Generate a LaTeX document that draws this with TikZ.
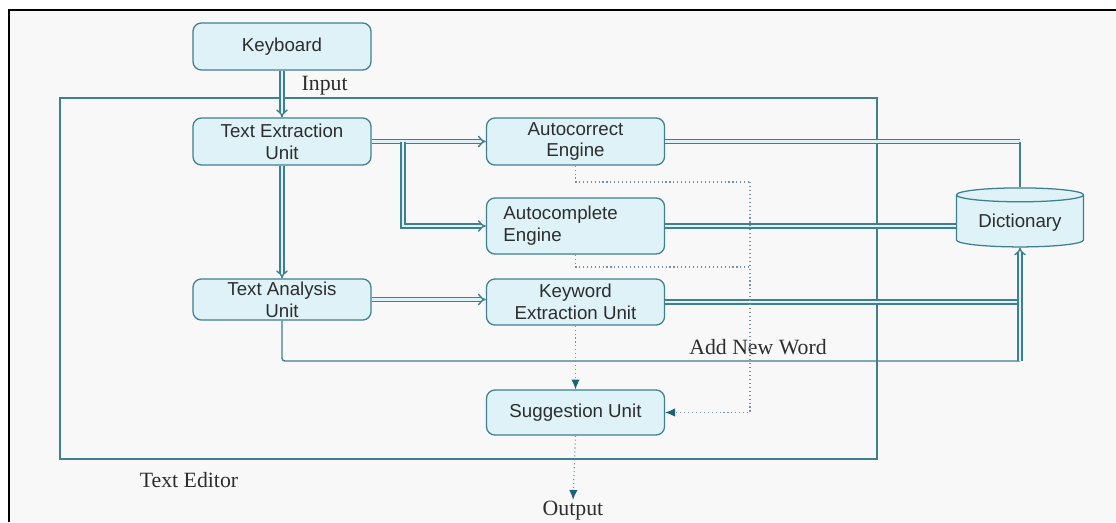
\documentclass[tikz,border=0pt]{standalone}
\usepackage{fontspec}
\setmainfont{Liberation Serif}
\setsansfont{Liberation Sans}
\usepackage{tikz}
\usetikzlibrary{arrows.meta,positioning,shapes.geometric}
\usepackage{xcolor}
\definecolor{cLine}{RGB}{62,128,144}
\definecolor{cFill}{RGB}{222,242,248}
\definecolor{cDot}{RGB}{120,145,160}
\definecolor{cHead}{RGB}{28,98,122}
\definecolor{cText}{RGB}{45,45,45}
\definecolor{cBg}{RGB}{248,248,248}

\begin{document}
\begin{tikzpicture}[
    x=0.025cm, y=-0.025cm,
    unit/.style={rectangle,rounded corners=6pt,draw=cLine,line width=0.9pt,fill=cFill,text=cText,
      font=\sffamily\fontsize{13.3}{15.5}\selectfont,align=center,minimum width=4.45cm,minimum height=1.175cm,inner sep=2pt},
    store/.style={cylinder,shape border rotate=90,aspect=0.15,draw=cLine,line width=0.9pt,fill=cFill,text=cText,
      font=\sffamily\fontsize{13.3}{15.5}\selectfont,minimum width=3.175cm,minimum height=1.475cm},
    tag/.style={font=\fontsize{15.5}{18}\selectfont,text=cText,inner sep=1pt},
    dbl/.style={draw=cLine,line width=1pt,double=cFill,double distance=1.7pt},
    link/.style={draw=cLine,line width=1pt},
    dots/.style={draw=cDot,line width=0.8pt,dotted},
    dothead/.style={-{Latex[length=7pt,width=6pt,color=cHead]}},
    >={Implies}
  ]
  \useasboundingbox (0,0) rectangle (1116,522);
  % Page
  \fill[white] (0,0) rectangle (1116,522);
  \fill[cBg] (9,10) rectangle (1116,522);
  \draw[line width=2pt] (9,522) -- (9,10) -- (1116,10);
  % Text editor frame
  \draw[cLine,line width=1pt] (60,98) rectangle (877,459);
  % Units
  \node[unit] (kbd) at (282,46.5) {Keyboard};
  \node[unit] (tex) at (282,141.5) {Text Extraction\\Unit};
  \node[unit] (acr) at (575.5,141.5) {Autocorrect\\Engine};
  \node[unit,minimum height=1.4cm,align=left,text width=3.6cm,inner xsep=0.425cm] (acp) at (575.5,226) {Autocomplete\\Engine};
  \node[unit,minimum height=1.025cm] (tan) at (282,299.5) {Text Analysis\\Unit};
  \node[unit,minimum height=1.15cm] (kwe) at (575.5,302) {Keyword\\Extraction Unit};
  \node[unit,minimum height=1.125cm] (sug) at (575.5,412.5) {Suggestion Unit};
  \node[store] (dict) at (1020,222.5) {Dictionary};
  % Labels
  \node[tag,anchor=west] (inp) at (300,86) {Input};
  \node[tag] (anw) at (758,347) {Add New Word};
  \node[tag] (ted) at (189,480) {Text Editor};
  \node[tag] (out) at (573,511) {Output};
  % Helper points
  \coordinate (brk) at (403,141.5);
  \coordinate (dtop) at (dict.north |- acr.east);
  \coordinate (jn) at (1020,361);
  \coordinate (cr) at (750,182);
  \coordinate (cm) at (750,267);
  % Data flow
  \draw[dbl,->] (kbd) -- (tex);
  \draw[dbl,->] (tex) -- (tan);
  \draw[dbl,->] (tex) -- (acr);
  \draw[dbl,->] (brk) |- (acp.west);
  \draw[dbl,->] (tan) -- (kwe.west |- tan.east);
  % Dictionary links
  \draw[dbl] (acr.east) -- (dtop);
  \draw[link] (dtop) -- (dict.north);
  \draw[dbl] (acp.east) -- (acp.east -| dict.west);
  \draw[dbl] (kwe.east) -- (kwe.east -| dict.south);
  \draw[link,rounded corners=2pt] (tan.south) |- (jn);
  \draw[dbl,->] (jn) -- (dict.south);
  % Suggestions
  \draw[dots] (acr.south) |- (cr);
  \draw[dots] (acp.south) |- (cm);
  \draw[dots,dothead] (cr) |- (sug.east);
  \draw[dots,dothead] (kwe.south) -- (sug.north);
  \draw[dots,dothead] (sug.south) -- (out.north);
\end{tikzpicture}
\end{document}
